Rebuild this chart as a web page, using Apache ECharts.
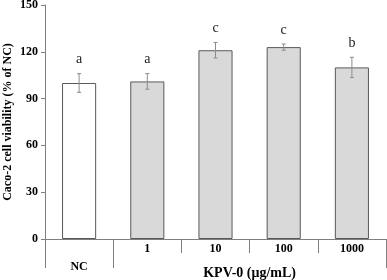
<!DOCTYPE html>
<html>
<head>
<meta charset="utf-8">
<script src="https://cdn.jsdelivr.net/npm/echarts@6/dist/echarts.min.js"></script>
<style>html,body{margin:0;padding:0;background:#fff}#container{width:387px;height:280px}</style>
</head>
<body>
<div id="container"></div>
<script>
var categories = ['NC', '1', '10', '100', '1000'];
var means = [100, 101, 121, 123, 110];
var errors = [6, 5, 5, 2, 6.5];
var letters = ['a', 'a', 'c', 'c', 'b'];
var yTicks = [0, 30, 60, 90, 120, 150];

var dom = document.getElementById('container');
var myChart = echarts.init(dom, null, { renderer: 'canvas' });
var serif = 'Liberation Serif';
var axisGrey = '#7f7f7f';

var errData = means.map(function (m, i) { return [i, m, errors[i], letters[i]]; });

var option = {
  backgroundColor: '#fff',
  animation: false,
  grid: { left: 45, right: 1, top: 5, bottom: 41, outerBoundsMode: 'none', containLabel: false },
  xAxis: [{
    type: 'category',
    data: categories,
    boundaryGap: true,
    axisLine: { lineStyle: { color: axisGrey, width: 1 } },
    axisTick: { show: true, length: 14, lineStyle: { color: axisGrey } },
    axisLabel: {
      color: '#000', fontFamily: serif, fontWeight: 'bold', fontSize: 12, margin: 4,
      formatter: function (v) { return v === 'NC' ? '{n|NC}' : v; },
      rich: { n: { fontFamily: serif, fontWeight: 'bold', fontSize: 12, padding: [18, 0, 0, 0] } }
    }
  }, {
    type: 'value',
    min: 0, max: 5,
    position: 'bottom',
    axisLine: { show: false },
    splitLine: { show: false },
    axisTick: { show: true, length: 29, customValues: [0, 1, 5], lineStyle: { color: axisGrey } },
    axisLabel: {
      show: true, customValues: [3], margin: 27,
      color: '#000', fontFamily: serif, fontWeight: 'bold', fontSize: 14,
      formatter: function () { return 'KPV-0 (μg/mL)'; }
    }
  }],
  yAxis: {
    type: 'value',
    min: yTicks[0], max: yTicks[yTicks.length - 1], interval: 30,
    name: 'Caco-2 cell viability (% of NC)',
    nameLocation: 'middle',
    nameGap: 31,
    nameMoveOverlap: false,
    nameTextStyle: { color: '#000', fontFamily: serif, fontWeight: 'bold', fontSize: 12 },
    axisLine: { show: true, lineStyle: { color: axisGrey } },
    axisTick: { show: true, length: 4, lineStyle: { color: axisGrey } },
    splitLine: { show: false },
    axisLabel: { color: '#000', fontFamily: serif, fontWeight: 'bold', fontSize: 12, margin: 7 }
  },
  series: [{
    type: 'bar',
    barWidth: '50%',
    data: means.map(function (m, i) {
      return { value: m, itemStyle: { color: i === 0 ? '#ffffff' : '#d9d9d9' } };
    }),
    itemStyle: { borderColor: '#595959', borderWidth: 1 }
  }, {
    type: 'custom',
    data: errData,
    z: 10,
    renderItem: function (params, api) {
      var x = api.value(0), m = api.value(1), e = api.value(2);
      var top = api.coord([x, m + e]);
      var bot = api.coord([x, m - e]);
      var cw = 2;
      var style = { stroke: '#8c8c8c', lineWidth: 1 };
      return {
        type: 'group',
        children: [
          { type: 'line', shape: { x1: top[0], y1: top[1], x2: bot[0], y2: bot[1] }, style: style },
          { type: 'line', shape: { x1: top[0] - cw, y1: top[1], x2: top[0] + cw, y2: top[1] }, style: style },
          { type: 'line', shape: { x1: bot[0] - cw, y1: bot[1], x2: bot[0] + cw, y2: bot[1] }, style: style },
          { type: 'text', style: { text: letters[params.dataIndex], x: top[0], y: top[1] - 14,
            align: 'center', verticalAlign: 'middle', fill: '#222', font: '14px "Liberation Serif"' } }
        ]
      };
    }
  }]
};

myChart.setOption(option);
window.addEventListener('resize', myChart.resize);
</script>
</body>
</html>
